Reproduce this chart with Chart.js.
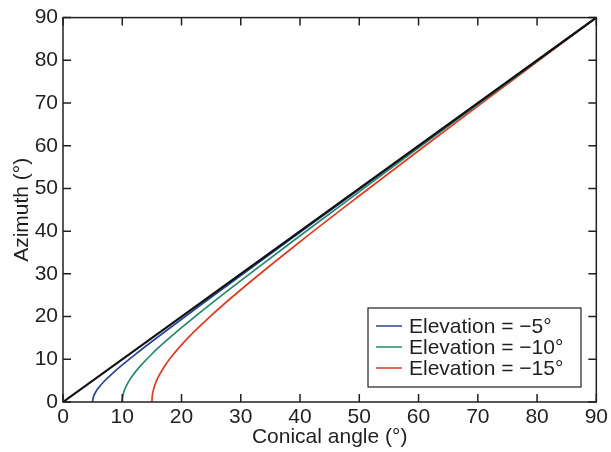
<!DOCTYPE html>
<html>
<head>
    <title>Azimuth vs conical angle</title>
    <script src="https://cdn.jsdelivr.net/npm/chart.js"></script>
    <style>
        body { margin: 0; padding: 0; background: #fff; }
    </style>
</head>
<body>
    <canvas id="azChart" width="611" height="452"></canvas>

    <script>
        // data (degrees)
        const refConical = [0, 90];
        const refAzimuth = [0, 90];

        const conicalM5 = [5, 5.05, 5.2, 5.5, 6, 7, 8, 10, 12, 15, 20, 25, 30, 40, 50, 60, 70, 80, 90];
        const azimuthM5 = [0, 0.71, 1.43, 2.29, 3.32, 4.91, 6.25, 8.67, 10.92, 14.16, 19.38, 24.52, 29.62, 39.74, 49.82, 59.87, 69.92, 79.96, 90];

        const conicalM10 = [10, 10.05, 10.2, 10.5, 11, 12, 13, 15, 17, 20, 25, 30, 40, 50, 60, 70, 80, 90];
        const azimuthM10 = [0, 1.01, 2.02, 3.22, 4.61, 6.67, 8.35, 11.24, 13.82, 17.40, 23.03, 28.43, 38.93, 49.25, 59.49, 69.68, 79.84, 90];

        const conicalM15 = [15, 15.05, 15.2, 15.5, 16, 17, 18, 20, 22, 25, 30, 40, 50, 60, 70, 80, 90];
        const azimuthM15 = [0, 1.24, 2.49, 3.95, 5.63, 8.09, 10.07, 13.38, 16.28, 20.23, 26.28, 37.52, 48.28, 58.83, 69.26, 79.64, 90];

        const seriesLabels = ['Elevation = \u22125\u00b0', 'Elevation = \u221210\u00b0', 'Elevation = \u221215\u00b0'];
        const seriesColors = ['#2a4596', '#23886c', '#dd3c22'];

        const axisMin = 0, axisMax = 90, axisStep = 10;
        const font = "'Liberation Sans', Arial, sans-serif";
        const fontSize = 21;
        const ink = '#231f20';

        function pts(xs, ys) {
            return xs.map((x, i) => ({ x: x, y: ys[i] }));
        }

        // frame with inward ticks on all four sides + legend box inside the plot
        const framePlugin = {
            id: 'frame',
            afterDraw(chart) {
                const c = chart.ctx;
                const a = chart.chartArea;
                const xs = chart.scales.x, ys = chart.scales.y;
                const tl = 8;
                c.save();
                c.strokeStyle = ink;
                c.lineWidth = 1.5;
                c.strokeRect(a.left, a.top, a.right - a.left, a.bottom - a.top);
                c.beginPath();
                xs.ticks.forEach(t => {
                    const px = xs.getPixelForValue(t.value);
                    c.moveTo(px, a.bottom); c.lineTo(px, a.bottom - tl);
                    c.moveTo(px, a.top); c.lineTo(px, a.top + tl);
                });
                ys.ticks.forEach(t => {
                    const py = ys.getPixelForValue(t.value);
                    c.moveTo(a.left, py); c.lineTo(a.left + tl, py);
                    c.moveTo(a.right, py); c.lineTo(a.right - tl, py);
                });
                c.stroke();

                // legend
                const bx = 368, by = 308, bw = 213, bh = 79;
                c.fillStyle = '#fff';
                c.fillRect(bx, by, bw, bh);
                c.lineWidth = 1.2;
                c.strokeStyle = ink;
                c.strokeRect(bx, by, bw, bh);
                c.font = fontSize + 'px ' + font;
                c.textBaseline = 'middle';
                seriesLabels.forEach((lab, i) => {
                    const y = by + 18 + i * 21;
                    c.strokeStyle = seriesColors[i];
                    c.lineWidth = 1.5;
                    c.beginPath();
                    c.moveTo(bx + 8, y); c.lineTo(bx + 34, y);
                    c.stroke();
                    c.fillStyle = ink;
                    c.fillText(lab, bx + 41, y + 1);
                });
                c.restore();
            }
        };

        const ctx = document.getElementById('azChart').getContext('2d');
        const chart = new Chart(ctx, {
            type: 'scatter',
            data: {
                datasets: [
                    {
                        label: 'reference',
                        data: pts(refConical, refAzimuth),
                        borderColor: '#111',
                        borderWidth: 2.2,
                        showLine: true,
                        pointRadius: 0,
                        order: 0
                    },
                    {
                        label: seriesLabels[0],
                        data: pts(conicalM5, azimuthM5),
                        borderColor: seriesColors[0],
                        borderWidth: 1.7,
                        showLine: true,
                        pointRadius: 0,
                        cubicInterpolationMode: 'monotone',
                        order: 1
                    },
                    {
                        label: seriesLabels[1],
                        data: pts(conicalM10, azimuthM10),
                        borderColor: seriesColors[1],
                        borderWidth: 1.7,
                        showLine: true,
                        pointRadius: 0,
                        cubicInterpolationMode: 'monotone',
                        order: 2
                    },
                    {
                        label: seriesLabels[2],
                        data: pts(conicalM15, azimuthM15),
                        borderColor: seriesColors[2],
                        borderWidth: 1.7,
                        showLine: true,
                        pointRadius: 0,
                        cubicInterpolationMode: 'monotone',
                        order: 3
                    }
                ]
            },
            options: {
                responsive: false,
                animation: false,
                devicePixelRatio: 1,
                layout: { padding: { left: 0, top: 16, right: 12, bottom: 0 } },
                scales: {
                    x: {
                        type: 'linear',
                        min: axisMin,
                        max: axisMax,
                        grid: { display: false, drawTicks: false },
                        border: { display: false },
                        ticks: { stepSize: axisStep, autoSkip: false, maxRotation: 0, color: ink, padding: 3, font: { family: font, size: fontSize } },
                        title: { display: true, text: 'Conical angle (\u00b0)', color: ink, padding: { top: 0, bottom: 2 }, font: { family: font, size: fontSize } },
                        afterFit(scale) { scale.height = 50; }
                    },
                    y: {
                        type: 'linear',
                        min: axisMin,
                        max: axisMax,
                        grid: { display: false, drawTicks: false },
                        border: { display: false },
                        ticks: { stepSize: axisStep, autoSkip: false, color: ink, padding: 5, font: { family: font, size: fontSize } },
                        title: { display: true, text: 'Azimuth (\u00b0)', color: ink, padding: { top: 10, bottom: 0 }, font: { family: font, size: fontSize } },
                        afterFit(scale) { scale.width = 63; }
                    }
                },
                plugins: {
                    legend: { display: false },
                    tooltip: { enabled: false }
                }
            },
            plugins: [framePlugin]
        });
    </script>
</body>
</html>
